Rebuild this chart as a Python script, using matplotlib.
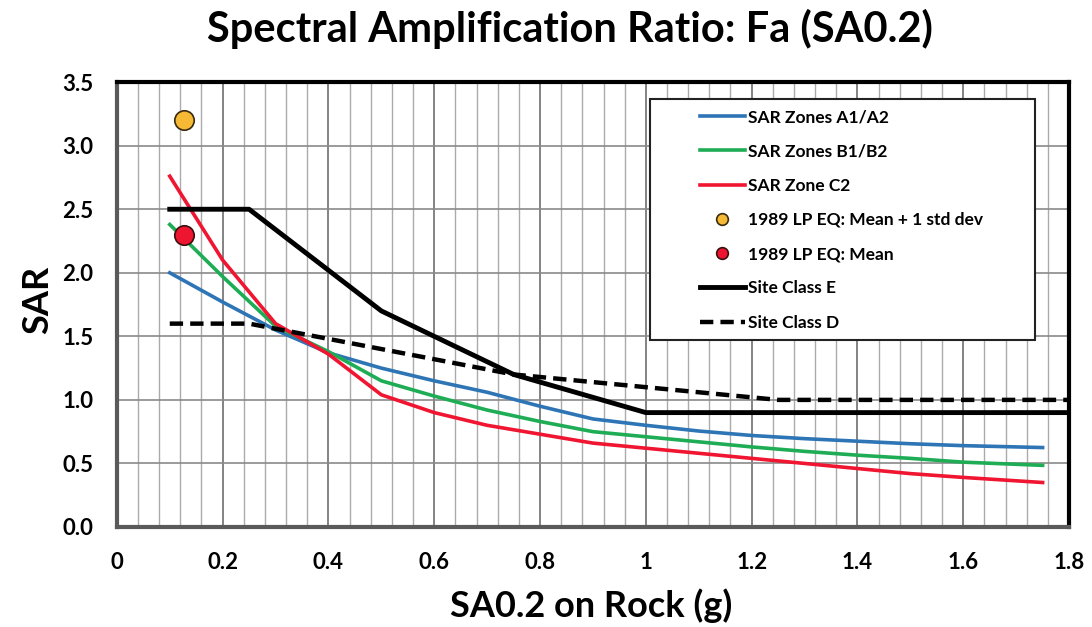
import matplotlib
matplotlib.use("Agg")
import matplotlib.pyplot as plt
from matplotlib.patches import Rectangle
from matplotlib.ticker import MultipleLocator, FuncFormatter

plt.rcParams['font.family'] = ['Lato', 'DejaVu Sans']

# ---- data ----
sar_x = [0.1, 0.2, 0.3, 0.4, 0.5, 0.6, 0.7, 0.8, 0.9, 1.0, 1.1, 1.2, 1.3, 1.4, 1.5, 1.6, 1.75]
sar_a = [2.00, 1.77, 1.55, 1.37, 1.25, 1.15, 1.06, 0.95, 0.85, 0.80, 0.755, 0.72, 0.695, 0.675, 0.655, 0.64, 0.625]
sar_b = [2.38, 1.97, 1.58, 1.38, 1.15, 1.03, 0.92, 0.83, 0.75, 0.71, 0.67, 0.63, 0.595, 0.565, 0.54, 0.51, 0.485]
sar_c = [2.76, 2.10, 1.60, 1.36, 1.04, 0.90, 0.80, 0.73, 0.66, 0.62, 0.58, 0.54, 0.50, 0.46, 0.42, 0.39, 0.35]

site_x = [0.1, 0.25, 0.5, 0.75, 1.0, 1.25, 1.8]
site_e = [2.5, 2.5, 1.7, 1.2, 0.9, 0.9, 0.9]
site_d = [1.6, 1.6, 1.4, 1.2, 1.1, 1.0, 1.0]

eq_x = [0.127]
eq_mean_plus = [3.2]
eq_mean = [2.3]

labels = ["SAR Zones A1/A2", "SAR Zones B1/B2", "SAR Zone C2",
          "1989 LP EQ: Mean + 1 std dev", "1989 LP EQ: Mean",
          "Site Class E", "Site Class D"]

title = "Spectral Amplification Ratio: Fa (SA0.2)"
xlabel = "SA0.2 on Rock (g)"
ylabel = "SAR"

# ---- figure ----
fig = plt.figure(figsize=(10.92, 6.27), dpi=100)
ax = fig.add_axes([0.107, 0.1595, 0.872, 0.7095])

ax.set_xlim(0, 1.8)
ax.set_ylim(0, 3.5)
ax.xaxis.set_major_locator(MultipleLocator(0.2))
ax.xaxis.set_minor_locator(MultipleLocator(0.04))
ax.yaxis.set_major_locator(MultipleLocator(0.5))
ax.xaxis.set_major_formatter(FuncFormatter(lambda v, p: "%g" % round(v, 2)))
ax.yaxis.set_major_formatter(FuncFormatter(lambda v, p: "%.1f" % v))

ax.grid(True, which='major', axis='x', color='#7a7a7a', lw=1.3, zorder=0)
ax.grid(True, which='minor', axis='x', color='#ababab', lw=1.0, zorder=0)
ax.grid(True, which='major', axis='y', color='#8a8a8a', lw=1.2, zorder=0)
ax.set_axisbelow(True)

ax.tick_params(which='both', length=0)
ax.tick_params(axis='x', pad=18, labelsize=16)
ax.tick_params(axis='y', pad=17, labelsize=16)
for lab in ax.get_xticklabels() + ax.get_yticklabels():
    lab.set_fontweight('bold')

for s in ['top', 'right']:
    ax.spines[s].set_color('black')
    ax.spines[s].set_linewidth(3)
for s in ['left', 'bottom']:
    ax.spines[s].set_color('#5a5a5a')
    ax.spines[s].set_linewidth(3)

h1, = ax.plot(sar_x, sar_a, color='#2e75b6', lw=2.6, zorder=3)
h2, = ax.plot(sar_x, sar_b, color='#1eac55', lw=2.6, zorder=3)
h3, = ax.plot(sar_x, sar_c, color='#f01530', lw=2.6, zorder=3)
h4, = ax.plot(eq_x, eq_mean_plus, 'o', color='#f5b935', mec='#3a2a10', mew=1.2, ms=14, zorder=4)
h5, = ax.plot(eq_x, eq_mean, 'o', color='#ee1530', mec='#3a1010', mew=1.2, ms=14, zorder=4)
h6, = ax.plot(site_x, site_e, color='black', lw=3.5, zorder=3, solid_joinstyle='round')
h7, = ax.plot(site_x, site_d, color='black', lw=3.2, ls=(0, (3, 1.6)), zorder=3)

# legend box
ax.add_patch(Rectangle((0.56, 0.42), 0.404, 0.542, transform=ax.transAxes,
                       facecolor='white', edgecolor='#222222', lw=1.5, zorder=5))
leg = ax.legend([h1, h2, h3, h4, h5, h6, h7], labels, loc='upper left',
                bbox_to_anchor=(0.612, 0.939), frameon=False, borderpad=0,
                borderaxespad=0, handlelength=2.6, handletextpad=0.2,
                labelspacing=1.05, prop={'weight': 'bold', 'size': 12.5},
                markerscale=0.6)
leg.set_zorder(6)

fig.text(570 / 1092, 1 - 42 / 627, title, fontsize=30, fontweight='bold',
         ha='center', va='baseline')
fig.text(591 / 1092, 1 - 617 / 627, xlabel, fontsize=26, fontweight='bold',
         ha='center', va='baseline')
fig.text(38 / 1092, 1 - 300 / 627, ylabel, fontsize=26, fontweight='bold',
         ha='center', va='center', rotation=90)

fig.savefig('out.png', dpi=100)
